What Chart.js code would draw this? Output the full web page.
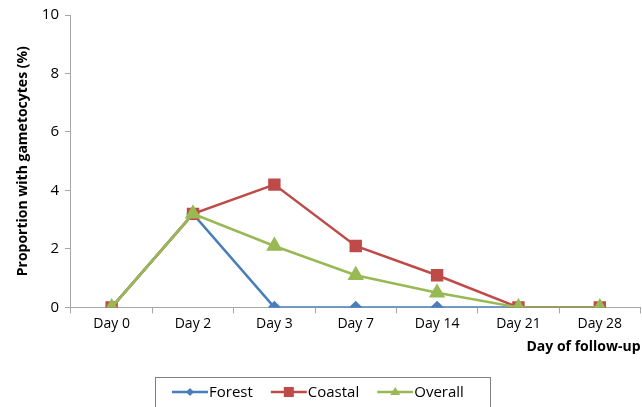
<!DOCTYPE html>
<html>
<head>
<meta charset="utf-8">
<script src="https://cdn.jsdelivr.net/npm/chart.js@4.4.1/dist/chart.umd.min.js"></script>
<style>
  html, body { margin: 0; padding: 0; background: #fff; }
  #wrap { width: 642px; height: 407px; overflow: hidden; }
</style>
</head>
<body>
<div id="wrap"><canvas id="gamChart" width="650" height="407"></canvas></div>
<script>
// chart data
const days = ["Day 0", "Day 2", "Day 3", "Day 7", "Day 14", "Day 21", "Day 28"];
const forest = [0, 3.2, 0, 0, 0, 0, 0];
const coastal = [0, 3.2, 4.2, 2.1, 1.1, 0, 0];
const overall = [0, 3.2, 2.1, 1.1, 0.5, 0, 0];
const yTicks = [0, 2, 4, 6, 8, 10];

const FONT = "'Open Sans', 'Liberation Sans', sans-serif";

// legend drawn as a boxed row under the chart, like the original
const boxLegend = {
    id: "boxLegend",
    afterDraw(chart) {
        const ctx = chart.ctx;
        const x0 = 155, y0 = 377, w = 335, h = 30;
        ctx.save();
        ctx.strokeStyle = "#7f7f7f";
        ctx.lineWidth = 1;
        ctx.strokeRect(x0 + 0.5, y0 + 0.5, w, h);
        ctx.font = "15px " + FONT;
        ctx.textBaseline = "middle";
        const cy = y0 + 15;
        let x = x0 + 17;
        chart.data.datasets.forEach(ds => {
            ctx.strokeStyle = ds.borderColor;
            ctx.lineWidth = 2.5;
            ctx.beginPath();
            ctx.moveTo(x, cy);
            ctx.lineTo(x + 36, cy);
            ctx.stroke();
            ctx.fillStyle = ds.borderColor;
            const mx = x + 18;
            ctx.beginPath();
            if (ds.pointStyle === "rectRot") {
                ctx.moveTo(mx, cy - 4); ctx.lineTo(mx + 4, cy); ctx.lineTo(mx, cy + 4); ctx.lineTo(mx - 4, cy);
            } else if (ds.pointStyle === "rect") {
                ctx.rect(mx - 5, cy - 5, 10, 10);
            } else {
                ctx.moveTo(mx, cy - 5); ctx.lineTo(mx + 5, cy + 3); ctx.lineTo(mx - 5, cy + 3);
            }
            ctx.closePath();
            ctx.fill();
            ctx.fillStyle = "#000";
            ctx.fillText(ds.label, x + 37, cy + 1);
            x += 37 + ctx.measureText(ds.label).width + 18;
        });
        ctx.restore();
    }
};

new Chart(document.getElementById("gamChart"), {
    type: "line",
    data: {
        labels: days,
        datasets: [
            {
                label: "Forest",
                data: forest,
                borderColor: "#4a7ebb",
                backgroundColor: "#4a7ebb",
                borderWidth: 2.5,
                pointStyle: "rectRot",
                pointRadius: 5,
                tension: 0,
                order: 2
            },
            {
                label: "Coastal",
                data: coastal,
                borderColor: "#be4b48",
                backgroundColor: "#be4b48",
                borderWidth: 2.5,
                pointStyle: "rect",
                pointRadius: 7,
                tension: 0,
                order: 1
            },
            {
                label: "Overall",
                data: overall,
                borderColor: "#98b954",
                backgroundColor: "#98b954",
                borderWidth: 2.5,
                pointStyle: "triangle",
                pointRadius: 7,
                tension: 0,
                order: 0
            }
        ]
    },
    options: {
        responsive: false,
        animation: false,
        layout: { padding: { left: 11, right: 0, top: 8, bottom: 48 } },
        plugins: {
            legend: { display: false },
            tooltip: { enabled: false }
        },
        scales: {
            x: {
                offset: true,
                grid: { offset: true, drawOnChartArea: false, tickLength: 6, color: "#a6a6a6" },
                border: { color: "#a6a6a6" },
                ticks: { color: "#000", font: { family: FONT, size: 14 }, padding: 2 },
                title: {
                    display: true,
                    text: "Day of follow-up",
                    align: "end",
                    color: "#000",
                    font: { family: FONT, size: 14, weight: "bold" },
                    padding: { top: 4 }
                }
            },
            y: {
                min: 0,
                max: 10,
                afterBuildTicks: axis => { axis.ticks = yTicks.map(v => ({ value: v })); },
                grid: { drawOnChartArea: false, tickLength: 6, color: "#a6a6a6" },
                border: { color: "#a6a6a6" },
                ticks: { color: "#000", font: { family: FONT, size: 15 }, padding: 6 },
                title: {
                    display: true,
                    text: "Proportion with gametocytes (%)",
                    color: "#000",
                    font: { family: FONT, size: 14, weight: "bold" },
                    padding: { bottom: 4 }
                }
            }
        }
    },
    plugins: [boxLegend]
});
</script>
</body>
</html>
